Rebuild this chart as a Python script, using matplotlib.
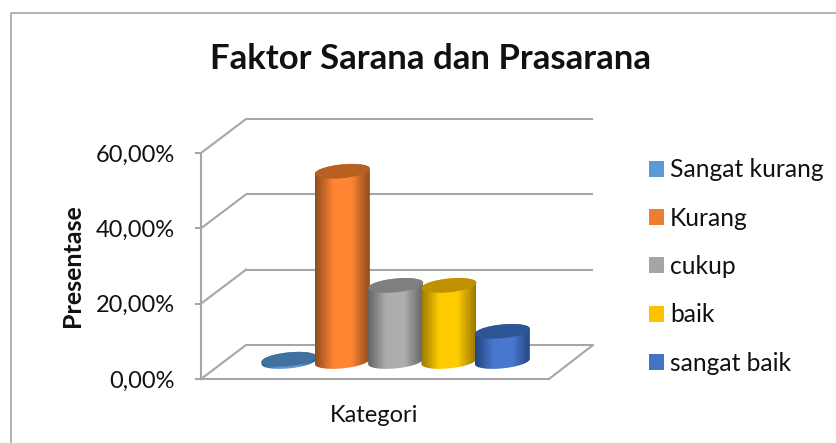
import numpy as np
import matplotlib
matplotlib.use('Agg')
import matplotlib.pyplot as plt
from matplotlib.colors import LinearSegmentedColormap
from matplotlib.lines import Line2D
from matplotlib.patches import Patch, Polygon
from matplotlib.transforms import Affine2D

plt.rcParams['font.family'] = ['Lato', 'DejaVu Sans']

title = 'Faktor Sarana dan Prasarana'
categories = ['Sangat kurang', 'Kurang', 'cukup', 'baik', 'sangat baik']
values = [0.6, 50.5, 20.2, 20.2, 8.0]
y_ticks = [0, 20, 40, 60]
y_tick_labels = ['0,00%', '20,00%', '40,00%', '60,00%']
x_label = 'Kategori'
y_label = 'Presentase'

legend_colors = ['#5B9BD5', '#ED7D31', '#A5A5A5', '#FFC000', '#4472C4']
edge_colors = ['#2F5F8A', '#8F4D1E', '#666666', '#9C7A00', '#24467F']
mid_colors = ['#5B9BD5', '#FF8533', '#ADADAD', '#FFCC00', '#4878D0']
top_colors = ['#41719C', '#B85F22', '#7F7F7F', '#BF9000', '#2F5597']
grey = '#A6A6A6'

W, H = 837, 443
fig = plt.figure(figsize=(W / 100, H / 100), dpi=100)
ax = fig.add_axes([201 / W, (H - 379) / H, 348 / W, 226 / H])

# one x unit is one bar step, 53.3 px; the axes box is the front plane
step = 53.33
ax.set_xlim(-65.5 / step, -65.5 / step + 348 / step)
ax.set_ylim(0, 60)
px_y = 226 / 60

# depth of the 3d box in pixels, bars stand half way in
back = Affine2D().translate(45, 34)
mid = Affine2D().translate(22.5, 17.5)
x0, x1 = ax.get_xlim()

for v in y_ticks:
    pts = ax.transData.transform([(x0, v)])[0]
    ax.add_line(Line2D([pts[0], pts[0] + 45], [pts[1], pts[1] + 34], color=grey, lw=1.5,
                       transform=None, clip_on=False, zorder=1))
    ax.plot([x0, x1 - 0.02], [v, v], color=grey, lw=1.5, clip_on=False, zorder=1,
            solid_capstyle='butt', transform=ax.transData + back)
pr = ax.transData.transform([(x1, 0)])[0]
ax.add_line(Line2D([pr[0], pr[0] + 44], [pr[1], pr[1] + 34], color=grey, lw=1.5,
                   transform=None, clip_on=False, zorder=1))

hw = 27.5 / step
hh = 6.9 / px_y
tilt = 2.6 / px_y
t = np.linspace(0, 2 * np.pi, 121)

for i, v in enumerate(values):
    cmap = LinearSegmentedColormap.from_list('c', [edge_colors[i], mid_colors[i], mid_colors[i], edge_colors[i]])
    tr = ax.transData + mid
    # shell = lower half of base ellipse plus upper half of top ellipse
    lower = np.linspace(np.pi, 2 * np.pi, 60)
    upper = np.linspace(0, np.pi, 60)
    xs = np.r_[i + hw * np.cos(lower), i + hw * np.cos(upper)]
    ys = np.r_[hh * np.sin(lower) + tilt * np.cos(lower), v + hh * np.sin(upper) + tilt * np.cos(upper)]
    shell = Polygon(np.c_[xs, ys], closed=True, transform=tr, facecolor='none', edgecolor='none', zorder=3 + i)
    ax.add_patch(shell)
    grad = np.linspace(0, 1, 64).reshape(1, -1)
    im = ax.imshow(grad, cmap=cmap, aspect='auto', extent=(i - hw, i + hw, -hh - tilt, v + hh + tilt),
                   transform=tr, zorder=3 + i, clip_on=True)
    im.set_clip_path(shell)
    ax.add_patch(Polygon(np.c_[i + hw * np.cos(t), v + hh * np.sin(t) + tilt * np.cos(t)], closed=True,
                         transform=tr, facecolor=top_colors[i], edgecolor='none', zorder=3 + i))

ax.set_xlim(x0, x1)
ax.set_ylim(0, 60)

for s in ['top', 'right']:
    ax.spines[s].set_visible(False)
for s in ['left', 'bottom']:
    ax.spines[s].set_color(grey)
    ax.spines[s].set_linewidth(1.5)
ax.patch.set_alpha(0)
ax.set_xticks([])
ax.set_yticks(y_ticks)
ax.set_yticklabels(y_tick_labels, fontsize=17, color='#111111')
ax.tick_params(axis='y', length=4, width=1.5, color=grey, pad=15)

fig.text(374 / W, 1 - 415 / H, x_label, fontsize=17, ha='center', va='center', color='#111111')
fig.text(72 / W, 1 - 266 / H, y_label, fontsize=18, fontweight='bold', rotation=90, ha='center', va='center', color='#111111')
fig.text(431 / W, 1 - 59 / H, title, fontsize=25, fontweight='bold', ha='center', va='center', color='#111111')

handles = [Patch(facecolor=c, edgecolor='none') for c in legend_colors]
fig.legend(handles, categories, loc='center left', bbox_to_anchor=(649 / W, 1 - 266.5 / H), frameon=False,
           fontsize=17.7, handlelength=0.61, handleheight=0.61, handletextpad=0.24, labelspacing=1.03, borderpad=0,
           borderaxespad=0, labelcolor='#111111')

# chart frame
fig.add_artist(Line2D([11.5 / W, 11.5 / W, 1], [0, 1 - 13 / H, 1 - 13 / H], color=grey, lw=1.2))

fig.savefig('out.png', dpi=100)
